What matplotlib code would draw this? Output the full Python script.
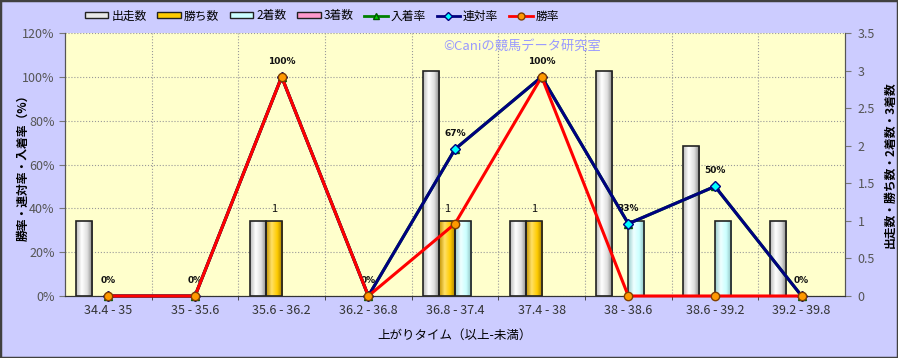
import numpy as np
import matplotlib
matplotlib.use("Agg")
import matplotlib.pyplot as plt
from matplotlib.patches import Rectangle, Patch
from matplotlib.lines import Line2D
from matplotlib.colors import LinearSegmentedColormap

plt.rcParams['font.family'] = ['Noto Sans CJK JP', 'DejaVu Sans']

# data
categories = ['34.4 - 35', '35 - 35.6', '35.6 - 36.2', '36.2 - 36.8', '36.8 - 37.4',
              '37.4 - 38', '38 - 38.6', '38.6 - 39.2', '39.2 - 39.8']
runs = [1, 0, 1, 0, 3, 1, 3, 2, 1]          # 出走数
wins = [0, 0, 1, 0, 1, 1, 0, 0, 0]          # 勝ち数
seconds = [0, 0, 0, 0, 1, 0, 1, 1, 0]       # 2着数
thirds = [0, 0, 0, 0, 0, 0, 0, 0, 0]        # 3着数
place_rate = [0, 0, 100, 0, 67, 100, 33, 50, 0]   # 入着率
quinella_rate = [0, 0, 100, 0, 67, 100, 33, 50, 0]  # 連対率
win_rate = [0, 0, 100, 0, 33, 100, 0, 0, 0]       # 勝率

W, H = 898, 358
fig = plt.figure(figsize=(W / 100, H / 100), dpi=100, facecolor='#CCCCFF')
fig.patches.append(Rectangle((0, 0), 1, 1, transform=fig.transFigure, fill=False,
                             edgecolor='#404040', linewidth=2.5))

rect = [65 / W, 1 - 296 / H, (845 - 65) / W, (296 - 33) / H]
ax_pct = fig.add_axes(rect, zorder=1)
ax_pct.set_facecolor('#FFFFCC')
ax_cnt = ax_pct.twinx()
ax_cnt.set_zorder(2)
ax_cnt.patch.set_visible(False)
ax_line = ax_pct.twinx()
ax_line.set_zorder(3)
ax_line.patch.set_visible(False)

x = np.arange(len(categories))
n = len(categories)

# percent axis (left)
ax_pct.set_xlim(-0.5, n - 0.5)
ax_pct.set_ylim(0, 120)
ax_pct.set_yticks(np.arange(0, 121, 20))
ax_pct.set_yticklabels([f'{v}%' for v in range(0, 121, 20)])
ax_pct.yaxis.grid(True, linestyle=':', color='#999999', linewidth=0.8)
ax_pct.set_xticks(x)
ax_pct.set_xticklabels(categories)
ax_pct.set_xticks(np.arange(0.5, n - 0.5, 1), minor=True)
ax_pct.xaxis.grid(True, which='minor', linestyle=':', color='#999999', linewidth=0.8)
ax_pct.tick_params(axis='x', which='major', length=0, labelsize=9, colors='#333333', pad=6)
ax_pct.tick_params(axis='x', which='minor', length=3, color='#333333')
ax_pct.tick_params(axis='y', labelsize=9, colors='#555555', length=4, color='#777777')
ax_pct.set_ylabel('勝率・連対率・入着率（%）', fontsize=8.5, fontweight='bold')
ax_pct.yaxis.set_label_coords(-0.045, 0.5)
ax_pct.set_xlabel('上がりタイム（以上-未満）', fontsize=9, labelpad=8)

# count axis (right)
ax_cnt.set_xlim(-0.5, n - 0.5)
ax_cnt.set_ylim(0, 3.5)
ax_cnt.set_yticks(np.arange(0, 3.6, 0.5))
ax_cnt.set_yticklabels(['0', '0.5', '1', '1.5', '2', '2.5', '3', '3.5'])
ax_cnt.tick_params(axis='y', labelsize=9, colors='#555555', length=4, color='#777777', pad=5)
ax_cnt.set_ylabel('出走数・勝ち数・2着数・3着数', fontsize=8.5, fontweight='bold')
ax_cnt.yaxis.set_label_coords(1.05, 0.5)

ax_line.set_ylim(0, 120)
ax_line.set_xlim(-0.5, n - 0.5)
ax_line.axis('off')

for a in (ax_pct, ax_cnt, ax_line):
    a.spines['top'].set_visible(False)
    a.spines['left'].set_color('#555555')
    a.spines['right'].set_color('#555555')
    a.spines['bottom'].set_color('#333333')

# bars with cylinder shading
bw = 0.185
series = [
    (runs, '出走数', ['#bbbbbb', '#ffffff', '#e0e0e0', '#808080']),
    (wins, '勝ち数', ['#c09000', '#ffe066', '#ffcc00', '#a07800']),
    (seconds, '2着数', ['#99cccc', '#eeffff', '#ccffff', '#88bbbb']),
    (thirds, '3着数', ['#cc6699', '#ffccee', '#ff99cc', '#aa5588']),
]
grad = np.linspace(0, 1, 64).reshape(1, -1)
for i, (vals, name, cols) in enumerate(series):
    cmap = LinearSegmentedColormap.from_list(name, cols)
    offs = (i - 1.5) * bw
    bars = ax_cnt.bar(x + offs, vals, width=bw, facecolor='none',
                      edgecolor='#222222', linewidth=1.2, zorder=3)
    for b, v in zip(bars, vals):
        if v <= 0:
            b.set_visible(False)
            continue
        im = ax_cnt.imshow(grad, cmap=cmap, aspect='auto', zorder=2,
                           extent=[b.get_x(), b.get_x() + b.get_width(), 0, v])
        im.set_clip_path(b)
ax_cnt.set_xlim(-0.5, n - 0.5)
ax_cnt.set_ylim(0, 3.5)

# 勝ち数 labels
for xi, v in zip(x, wins):
    if v > 0:
        ax_cnt.annotate(str(v), (xi - 0.5 * bw, v), xytext=(0, 5), textcoords='offset points',
                        ha='center', va='bottom', fontsize=8, color='#111111')

# rate lines
ax_line.plot(x, place_rate, color='#008000', lw=2.2, marker='^', ms=6,
             mfc='#00cc00', mec='#005500', zorder=4, clip_on=False)
ax_line.plot(x, quinella_rate, color='#000080', lw=2.2, marker='D', ms=5,
             mfc='#00ffff', mec='#000080', zorder=5, clip_on=False)
ax_line.plot(x, win_rate, color='#ff0000', lw=2.2, marker='o', ms=6,
             mfc='#ff9900', mec='#804000', zorder=6, clip_on=False)

for xi, v in zip(x, place_rate):
    ax_line.annotate(f'{v}%', (xi, v), xytext=(0, 8), textcoords='offset points',
                     ha='center', va='bottom', fontsize=6.5, fontweight='bold',
                     family='DejaVu Sans', color='#111111')

ax_line.text(0.586, 0.95, '©Caniの競馬データ研究室', transform=ax_line.transAxes,
             ha='center', va='center', fontsize=9.5, color='#9999ff')

# legend
handles = [
    Patch(facecolor='#e8e8e8', edgecolor='#222222', label='出走数'),
    Patch(facecolor='#ffcc00', edgecolor='#222222', label='勝ち数'),
    Patch(facecolor='#ccffff', edgecolor='#222222', label='2着数'),
    Patch(facecolor='#ff99cc', edgecolor='#222222', label='3着数'),
    Line2D([], [], color='#008000', lw=2, marker='^', ms=5, mfc='#00cc00', mec='#005500', label='入着率'),
    Line2D([], [], color='#000080', lw=2, marker='D', ms=4, mfc='#00ffff', mec='#000080', label='連対率'),
    Line2D([], [], color='#ff0000', lw=2, marker='o', ms=5, mfc='#ff9900', mec='#804000', label='勝率'),
]
fig.legend(handles=handles, loc='center left', bbox_to_anchor=(80 / W, 1 - 16 / H), ncol=7,
           frameon=False, fontsize=8.5, handlelength=2.0, handleheight=0.45,
           columnspacing=0.9, handletextpad=0.25, borderaxespad=0)

fig.savefig('out.png', dpi=100, facecolor=fig.get_facecolor())
